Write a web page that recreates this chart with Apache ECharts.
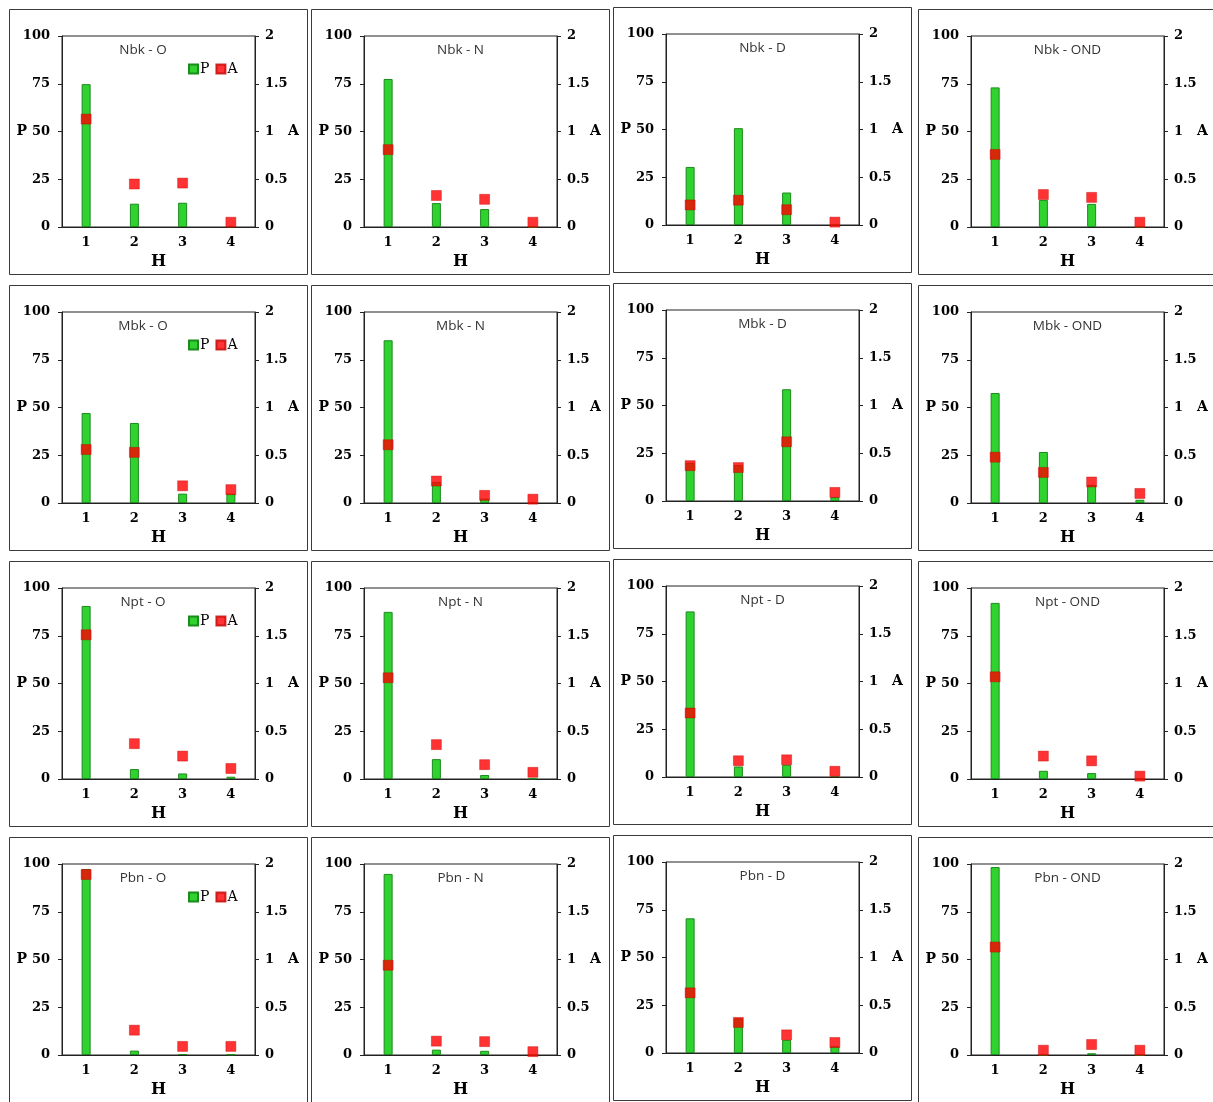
<!DOCTYPE html>
<html>
<head>
<meta charset="utf-8">
<script src="https://cdn.jsdelivr.net/npm/echarts@6/dist/echarts.min.js"></script>
<style>
  html, body { margin: 0; padding: 0; background: #fff; }
  #chart { width: 1213px; height: 1102px; }
</style>
</head>
<body>
<div id="chart"></div>
<script>
// Horizon categories and axis tick values
const hCategories = ['1', '2', '3', '4'];
const pTicks = [0, 25, 50, 75, 100];
const aTicks = [0, 0.5, 1, 1.5, 2];

// Sites (rows) and periods (columns)
const sites = ['Nbk', 'Mbk', 'Npt', 'Pbn'];
const periods = ['O', 'N', 'D', 'OND'];

// P (bars, left axis) per period O, N, D, OND for each site
const P_Nbk = [[74.8, 12.2, 12.7, 0.4], [77.5, 12.5, 9.4, 0], [30.4, 50.7, 17.0, 0], [73.1, 14.2, 12.1, 0]];
const P_Mbk = [[47.1, 41.9, 4.9, 4.9], [85.2, 11.0, 2.3, 0.5], [20.0, 18.8, 58.5, 2.0], [57.6, 26.7, 9.5, 1.7]];
const P_Npt = [[90.6, 5.2, 2.9, 1.2], [87.5, 10.4, 2.1, 0.3], [86.7, 5.5, 6.4, 0.5], [92.2, 4.3, 3.1, 0]];
const P_Pbn = [[97.4, 2.3, 0.5, 0.3], [94.8, 2.8, 2.2, 0], [70.5, 18.2, 6.9, 3.5], [98.4, 0, 0.9, 0]];

// A (square markers, right axis) per period O, N, D, OND for each site
const A_Nbk = [[1.13, 0.45, 0.46, 0.05], [0.81, 0.33, 0.29, 0.05], [0.21, 0.26, 0.16, 0.03], [0.76, 0.34, 0.31, 0.05]];
const A_Mbk = [[0.56, 0.53, 0.18, 0.14], [0.61, 0.23, 0.08, 0.04], [0.37, 0.35, 0.62, 0.09], [0.48, 0.32, 0.22, 0.10]];
const A_Npt = [[1.51, 0.37, 0.24, 0.11], [1.06, 0.36, 0.15, 0.07], [0.67, 0.17, 0.18, 0.06], [1.07, 0.24, 0.19, 0.03]];
const A_Pbn = [[1.89, 0.26, 0.09, 0.09], [0.94, 0.145, 0.14, 0.035], [0.63, 0.32, 0.19, 0.11], [1.13, 0.05, 0.11, 0.05]];

const pBySite = [P_Nbk, P_Mbk, P_Npt, P_Pbn];
const aBySite = [A_Nbk, A_Mbk, A_Npt, A_Pbn];

// Panel layout
const boxLeft = [9, 311, 613, 918];
const boxTop = [9, 285, 561, 837];
const colShift = [0, 0, -2, 0];
const BOX_W = 298, BOX_H = 265;
const PLOT_DX = 53, PLOT_DY = 27, PLOT_W = 193, PLOT_H = 191;

const AXIS_COLOR = '#222';
const serifBold = { fontFamily: 'DejaVu Serif', fontWeight: 'bold', color: '#000' };

const grids = [], xAxes = [], yAxes = [], series = [], graphics = [], legends = [];

sites.forEach((site, r) => {
  periods.forEach((period, c) => {
    const i = r * 4 + c;
    const bx = boxLeft[c], by = boxTop[r] + colShift[c];
    const gl = bx + PLOT_DX, gt = by + PLOT_DY;

    // panel frame
    graphics.push({
      type: 'rect', silent: true,
      shape: { x: bx + 0.5, y: by + 0.5, width: BOX_W, height: BOX_H },
      style: { fill: 'none', stroke: '#3a3a3a', lineWidth: 1 }
    });
    // panel title
    const tx = c === 0 ? gl + 81 : gl + PLOT_W / 2;
    graphics.push({
      type: 'text', silent: true, x: tx, y: gt + 14,
      style: {
        text: site + ' - ' + period, align: 'center', verticalAlign: 'middle',
        font: '13.5px "Open Sans"', fill: '#333'
      }
    });

    grids.push({
      left: gl, top: gt, width: PLOT_W, height: PLOT_H,
      show: true, borderColor: AXIS_COLOR, borderWidth: 1, backgroundColor: 'transparent'
    });

    xAxes.push({
      gridIndex: i, type: 'category', data: hCategories,
      name: 'H', nameLocation: 'middle', nameGap: 27, nameMoveOverlap: false,
      nameTextStyle: Object.assign({ fontSize: 16 }, serifBold),
      axisLine: { lineStyle: { color: AXIS_COLOR, width: 1 } },
      axisTick: { length: 5, lineStyle: { color: AXIS_COLOR } },
      axisLabel: Object.assign({ fontSize: 13, margin: 9 }, serifBold),
      splitLine: { show: false }
    });

    yAxes.push({
      gridIndex: i, type: 'value', position: 'left',
      min: pTicks[0], max: pTicks[pTicks.length - 1], interval: pTicks[1] - pTicks[0],
      name: 'P', nameLocation: 'middle', nameGap: 35, nameRotate: 0, nameMoveOverlap: false,
      nameTextStyle: Object.assign({ fontSize: 14, align: 'right', verticalAlign: 'middle' }, serifBold),
      axisLine: { show: true, lineStyle: { color: AXIS_COLOR } },
      axisTick: { show: true, length: 4, lineStyle: { color: AXIS_COLOR } },
      axisLabel: Object.assign({ fontSize: 13, margin: 12 }, serifBold),
      splitLine: { show: false }
    });
    yAxes.push({
      gridIndex: i, type: 'value', position: 'right',
      min: aTicks[0], max: aTicks[aTicks.length - 1], interval: aTicks[1] - aTicks[0],
      name: 'A', nameLocation: 'middle', nameGap: 33, nameRotate: 0, nameMoveOverlap: false,
      nameTextStyle: Object.assign({ fontSize: 14, align: 'left', verticalAlign: 'middle' }, serifBold),
      axisLine: { show: true, lineStyle: { color: AXIS_COLOR } },
      axisTick: { show: true, length: 4, lineStyle: { color: AXIS_COLOR } },
      axisLabel: Object.assign({ fontSize: 13, margin: 10 }, serifBold),
      splitLine: { show: false }
    });

    series.push({
      type: 'bar', name: 'P', xAxisIndex: i, yAxisIndex: 2 * i,
      data: pBySite[r][c], barWidth: 9,
      itemStyle: { color: '#2fd22f', borderColor: '#1d8a1d', borderWidth: 1 },
      animation: false, silent: true
    });
    series.push({
      type: 'scatter', name: 'A', xAxisIndex: i, yAxisIndex: 2 * i + 1,
      data: aBySite[r][c], symbol: 'rect', symbolSize: 10, z: 5,
      itemStyle: { color: '#ff0000', borderColor: '#c00000', borderWidth: 0.5 },
      animation: false, silent: true
    });

    // legend only in the first column
    if (c === 0) {
      legends.push({
        left: gl + 121, top: gt + 21,
        data: [{ name: 'P', icon: 'rect' }, { name: 'A', icon: 'rect' }],
        itemWidth: 9, itemHeight: 9, itemGap: 6, selectedMode: false,
        textStyle: { fontFamily: 'DejaVu Serif', fontSize: 14, color: '#000', padding: [0, 0, 0, -3] }
      });
    }
  });
});

const chart = echarts.init(document.getElementById('chart'), null, { renderer: 'canvas' });
chart.setOption({
  animation: false,
  backgroundColor: '#fff',
  grid: grids,
  xAxis: xAxes,
  yAxis: yAxes,
  legend: legends,
  series: series,
  graphic: graphics
});
</script>
</body>
</html>
